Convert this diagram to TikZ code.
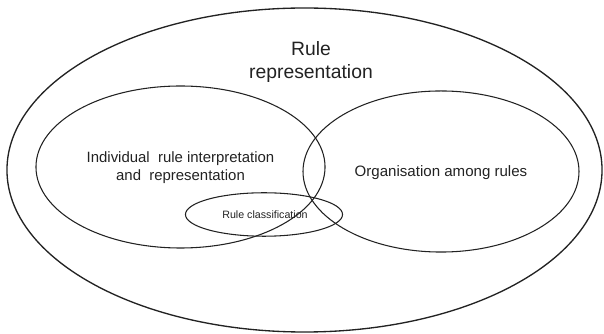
\documentclass[tikz,border=0pt]{standalone}
\usepackage{fontspec}
\setmainfont{Liberation Sans}
\usetikzlibrary{shapes.geometric}
\definecolor{ink}{HTML}{222222}
\tikzset{
  venn/.style={draw=ink, ellipse, inner sep=0pt, line width=0.8pt},
  lbl/.style={text=ink, align=center, inner sep=0pt}
}
\begin{document}
\begin{tikzpicture}[x=0.75pt,y=-0.75pt]
\useasboundingbox (0,0) rectangle (604,334);
\node[venn, line width=1pt, minimum width=446.3pt, minimum height=243pt] (outer) at (304.5,170) {};
\node[venn, minimum width=216.8pt, minimum height=121.5pt] (indiv) at (180.5,167) {};
\node[venn, minimum width=207pt, minimum height=120.8pt] (org) at (441,171.5) {};
\node[venn, minimum width=117.8pt, minimum height=32.6pt] (cls) at (264,214.5) {};
\node[lbl, font=\fontsize{14.5pt}{17.25pt}\selectfont] (title) at (311,62) {Rule\\representation};
\node[lbl, font=\fontsize{11.2pt}{13.3pt}\selectfont] (indivtxt) at (180.5,168) {Individual\ \ rule interpretation\\and\ \ representation};
\node[lbl, font=\fontsize{11.3pt}{13.3pt}\selectfont] (orgtxt) at (441,173) {Organisation among rules};
\node[lbl, font=\fontsize{8pt}{9.6pt}\selectfont] (clstxt) at (265,215) {Rule classification};
\end{tikzpicture}
\end{document}
